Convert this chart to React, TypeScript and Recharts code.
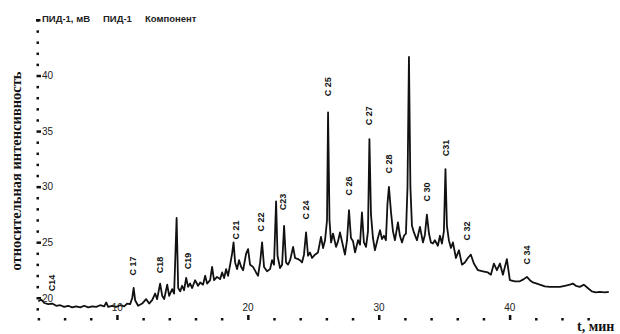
import { ComposedChart, Line, Scatter, XAxis, YAxis } from "recharts";

// retention time, min
const times = [
  3.97, 4.2, 4.43, 4.73, 5.04, 5.34, 5.65, 5.95, 6.26, 6.56, 6.87, 7.18, 7.48, 7.79, 8.09, 8.4, 8.7, 9.01, 9.16, 9.31,
  9.62, 9.92, 10.23, 10.53, 10.76, 10.99, 11.15, 11.26, 11.37, 11.6, 11.91, 12.21, 12.44, 12.67, 12.9, 13.05, 13.28,
  13.44, 13.59, 13.82, 13.97, 14.2, 14.35, 14.54, 14.66, 14.81, 14.96, 15.11, 15.27, 15.42, 15.57, 15.73, 15.95,
  16.18, 16.34, 16.56, 16.72, 16.87, 17.1, 17.25, 17.4, 17.63, 17.86, 18.02, 18.17, 18.32, 18.47, 18.63, 18.78,
  18.89, 19.01, 19.16, 19.31, 19.47, 19.62, 19.85, 20.0, 20.15, 20.38, 20.61, 20.76, 20.92, 21.07, 21.22, 21.45,
  21.68, 21.83, 21.98, 22.14, 22.25, 22.44, 22.6, 22.75, 22.9, 23.05, 23.21, 23.44, 23.59, 23.82, 23.97, 24.12,
  24.27, 24.43, 24.58, 24.73, 24.89, 25.11, 25.34, 25.57, 25.73, 25.88, 26.03, 26.11, 26.22, 26.34, 26.49, 26.72,
  26.87, 27.02, 27.25, 27.4, 27.56, 27.71, 27.86, 28.02, 28.17, 28.4, 28.55, 28.7, 28.85, 29.01, 29.16, 29.27,
  29.39, 29.54, 29.69, 29.92, 30.08, 30.23, 30.38, 30.53, 30.65, 30.76, 30.92, 31.07, 31.22, 31.45, 31.6, 31.76,
  31.91, 32.06, 32.18, 32.29, 32.4, 32.52, 32.67, 32.9, 33.13, 33.36, 33.51, 33.66, 33.82, 33.97, 34.12, 34.27,
  34.5, 34.66, 34.81, 34.96, 35.08, 35.19, 35.34, 35.5, 35.65, 35.88, 36.11, 36.34, 36.56, 36.79, 37.02, 37.25,
  37.56, 37.94, 38.32, 38.55, 38.78, 39.01, 39.24, 39.47, 39.77, 40.0, 40.38, 40.76, 41.07, 41.3, 41.53, 41.76,
  42.06, 42.29, 42.67, 43.05, 43.44, 43.82, 44.2, 44.58, 44.81, 45.04, 45.34, 45.65, 45.95, 46.26, 46.56, 46.87,
  47.25, 47.56,
];

// ПИД-1 signal, relative intensity
const signal = [
  19.7, 19.85, 19.55, 19.45, 19.5, 19.3, 19.35, 19.2, 19.3, 19.15, 19.25, 19.15, 19.3, 19.15, 19.25, 19.2, 19.35,
  19.25, 19.6, 19.2, 19.3, 19.2, 19.35, 19.25, 19.5, 19.45, 20.0, 20.9, 19.8, 19.3, 19.5, 19.9, 19.5, 19.8, 20.4,
  19.9, 21.3, 20.2, 19.9, 21.2, 20.2, 20.8, 20.4, 27.2, 20.9, 20.6, 21.1, 20.7, 21.8, 21.0, 21.3, 20.9, 21.6, 21.1,
  21.4, 21.2, 22.0, 21.3, 21.6, 22.8, 21.6, 21.9, 21.7, 22.3, 21.8, 22.6, 22.0, 23.0, 24.0, 25.0, 23.2, 22.6, 23.4,
  22.8, 22.5, 24.0, 24.4, 23.0, 22.8, 22.3, 22.0, 23.2, 25.0, 22.8, 22.4, 22.6, 23.4, 23.0, 28.7, 23.8, 22.7, 23.0,
  26.5, 23.2, 23.0, 23.4, 24.6, 23.6, 23.5, 23.4, 23.2, 23.9, 25.9, 23.8, 24.1, 23.6, 23.9, 24.1, 25.5, 24.5, 25.2,
  27.0, 36.7, 27.0, 25.0, 25.8, 24.6, 25.1, 25.9, 24.7, 23.9, 25.2, 27.9, 25.4, 25.1, 24.1, 25.2, 24.8, 27.7, 25.0,
  24.6, 26.0, 34.3, 27.5, 25.4, 24.3, 25.4, 26.1, 25.3, 25.6, 25.2, 28.5, 30.0, 27.7, 26.0, 25.2, 26.8, 25.6, 25.0,
  25.6, 25.8, 30.0, 41.7, 30.0, 26.5, 25.9, 25.2, 26.4, 25.0, 25.7, 27.5, 25.8, 25.0, 24.9, 25.2, 24.7, 25.6, 24.9,
  26.0, 31.6, 26.5, 25.2, 24.5, 25.0, 23.6, 24.3, 23.0, 23.2, 23.6, 23.9, 23.1, 22.5, 22.4, 22.3, 22.1, 23.1, 22.5,
  23.1, 22.1, 23.5, 21.6, 21.5, 21.5, 21.7, 21.9, 21.6, 21.4, 21.3, 21.2, 21.05, 21.0, 21.0, 21.0, 21.1, 21.2, 21.3,
  21.1, 21.0, 21.2, 20.9, 20.6, 20.5, 20.55, 20.5, 20.55,
];

const peakNames = ["C14", "C 17", "C18", "C19", "C 21", "C 22", "C23", "C 24", "C 25", "C 26", "C 27", "C 28", "C 30", "C31", "C 32", "C 34"];
const peakTimes = [5.04, 11.22, 13.28, 15.42, 19.08, 20.99, 22.67, 24.43, 26.11, 27.71, 29.24, 30.76, 33.66, 35.11, 36.72, 41.3];
const peakLevels = [21.35, 22.88, 22.97, 23.33, 26.13, 26.85, 28.65, 27.93, 39.01, 30.09, 36.4, 32.07, 29.55, 33.51, 26.04, 23.87];

const xTicks = [4, 6, 8, 10, 12, 14, 16, 18, 20, 22, 24, 26, 28, 30, 32, 34, 36, 38, 40, 42, 44, 46];
const xLabels = [10, 20, 30, 40];
const yTicks = [19, 20, 21, 22, 23, 24, 25, 26, 27, 28, 29, 30, 31, 32, 33, 34, 35, 36, 37, 38, 39, 40, 41, 42, 43, 44, 45];
const yLabels = [20, 25, 30, 35, 40];

const data = times.map((t, i) => ({ t, v: signal[i] }));
const peaks = peakNames.map((name, i) => ({ t: peakTimes[i], v: peakLevels[i], name }));

const sans = "'Liberation Sans', Arial, sans-serif";
const serif = "'Liberation Serif', 'Times New Roman', serif";

const XTick = (props: any) => {
  const { x, y, payload } = props;
  const major = xLabels.includes(payload.value);
  return (
    <g>
      {major ? (
        <rect x={x - 1} y={y - 3} width={2.5} height={5} fill="#111" />
      ) : (
        <rect x={x - 1} y={y} width={2.5} height={2.5} fill="#111" />
      )}
      {major && (
        <text x={x} y={y - 7} textAnchor="middle" fontSize={10} fontFamily={sans} fill="#222">
          {payload.value}
        </text>
      )}
    </g>
  );
};

const YTick = (props: any) => {
  const { x, y, payload } = props;
  const major = yLabels.includes(payload.value);
  return (
    <g>
      {major ? (
        <rect x={x - 1.5} y={y - 1} width={4.5} height={2.5} fill="#111" />
      ) : (
        <rect x={x - 1.5} y={y - 1} width={2.5} height={2.5} fill="#111" />
      )}
      {major && (
        <text x={x + 4} y={y + 3.5} fontSize={10} fontFamily={sans} fill="#222">
          {payload.value}
        </text>
      )}
    </g>
  );
};

const PeakLabel = (props: any) => {
  const { cx, cy, payload } = props;
  return (
    <text
      x={cx}
      y={cy}
      transform={`rotate(-90 ${cx} ${cy})`}
      textAnchor="middle"
      dominantBaseline="central"
      fontSize={9}
      fontWeight="bold"
      fontFamily={sans}
      fill="#111"
    >
      {payload.name}
    </text>
  );
};

export default function App() {
  return (
    <div style={{ position: "absolute", left: 0, top: 0, width: 620, height: 334, background: "#fff" }}>
      <ComposedChart width={620} height={334} data={data} margin={{ top: 18, right: 10, bottom: 15, left: 37 }}>
        <XAxis
          type="number"
          dataKey="t"
          domain={[3.95, 47.65]}
          ticks={xTicks}
          interval={0}
          height={1}
          tickSize={0}
          tickMargin={0}
          axisLine={false}
          tickLine={false}
          tick={XTick}
          allowDataOverflow
        />
        <YAxis
          type="number"
          domain={[18.2, 45.2]}
          ticks={yTicks}
          interval={0}
          width={1}
          tickSize={0}
          tickMargin={0}
          axisLine={false}
          tickLine={false}
          tick={YTick}
          allowDataOverflow
        />
        <Line
          type="linear"
          dataKey="v"
          stroke="#111"
          strokeWidth={1.8}
          strokeLinejoin="round"
          dot={false}
          isAnimationActive={false}
        />
        <Scatter data={peaks} dataKey="v" shape={PeakLabel} isAnimationActive={false} />
      </ComposedChart>
      <svg width={620} height={334} style={{ position: "absolute", left: 0, top: 0, pointerEvents: "none" }}>
        <rect x={36} y={19} width={4.5} height={2.5} fill="#111" />
        <text x={42} y={22} fontSize={9.5} fontWeight="bold" fontFamily={sans} fill="#222">
          ПИД-1, мВ
        </text>
        <text x={103} y={22} fontSize={9.5} fontWeight="bold" fontFamily={sans} fill="#222">
          ПИД-1
        </text>
        <text x={145} y={22} fontSize={9.5} fontWeight="bold" fontFamily={sans} fill="#222">
          Компонент
        </text>
        <text
          x={21}
          y={171}
          transform="rotate(-90 21 171)"
          textAnchor="middle"
          fontSize={14.5}
          fontWeight="bold"
          fontFamily={serif}
          fill="#111"
        >
          относительная интенсивность
        </text>
        <text x={577} y={331} fontSize={14} fontWeight="bold" fontFamily={serif} fill="#111">
          t, мин
        </text>
      </svg>
    </div>
  );
}
